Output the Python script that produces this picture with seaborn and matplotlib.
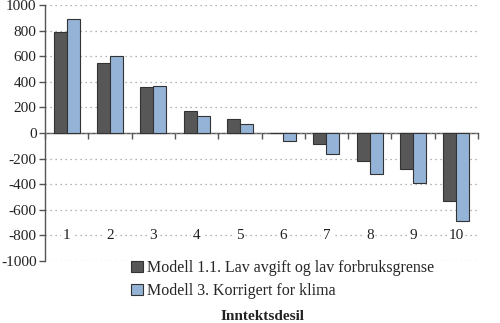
import matplotlib
matplotlib.use("Agg")
import matplotlib.pyplot as plt
import seaborn as sns
import pandas as pd
from matplotlib.patches import Rectangle

categories = ["1", "2", "3", "4", "5", "6", "7", "8", "9", "10"]
series_names = ["Modell 1.1. Lav avgift og lav forbruksgrense",
                "Modell 3. Korrigert for klima"]
modell_11 = [792, 547, 356, 174, 112, -3, -84, -219, -281, -534]
modell_3 = [893, 600, 370, 135, 70, -60, -162, -323, -388, -685]
yticks = [-1000, -800, -600, -400, -200, 0, 200, 400, 600, 800, 1000]
xlabel = "Inntektsdesil"

colors = ["#575757", "#95b3d7"]

df = pd.DataFrame({
    "desil": categories * 2,
    "verdi": modell_11 + modell_3,
    "serie": [series_names[0]] * len(categories) + [series_names[1]] * len(categories),
})

sns.set_theme(style="white")
plt.rcParams["font.family"] = ["Liberation Serif", "DejaVu Serif"]

fig = plt.figure(figsize=(5.0, 3.23), dpi=100)
ax = fig.add_axes([0.09, 0.192, 0.866, 0.7925])

sns.barplot(data=df, x="desil", y="verdi", hue="serie", order=categories,
            hue_order=series_names, palette=colors, width=0.6, gap=0,
            edgecolor="#333333", linewidth=0.8, saturation=1, ax=ax,
            legend=False, errorbar=None)

ax.set_ylim(-1000, 1000)
ax.set_xlim(-0.5, len(categories) - 0.5)
ax.set_yticks(yticks)
ax.set_yticklabels([str(v) for v in yticks], fontsize=11, color="#222222")
ax.yaxis.grid(True, linestyle=(0, (1, 3)), color="#9a9a9a", linewidth=0.9)
ax.set_axisbelow(True)

for s in ["top", "right"]:
    ax.spines[s].set_visible(False)
ax.spines["left"].set_color("#555555")
ax.spines["left"].set_linewidth(1.0)
ax.spines["bottom"].set_position(("data", 0))
ax.spines["bottom"].set_color("#555555")
ax.spines["bottom"].set_linewidth(1.0)
ax.spines["bottom"].set_zorder(0.5)

ax.tick_params(axis="y", left=True, direction="out", length=4, width=1,
               color="#555555", pad=2)
ax.set_xticks([i - 0.5 for i in range(len(categories) + 1)])
ax.set_xticklabels([])
ax.tick_params(axis="x", bottom=True, direction="out", length=4, width=1,
               color="#555555")
ax.set_xlabel("")
ax.set_ylabel("")

for i, c in enumerate(categories):
    ax.text(i, -800, c, ha="center", va="center", fontsize=11, color="#222222",
            bbox=dict(facecolor="white", edgecolor="none", pad=1.0))

handles = [Rectangle((0, 0), 1, 1, facecolor=colors[k], edgecolor="#333333",
                     linewidth=0.8) for k in range(2)]
fig.legend(handles, series_names, loc="upper left",
           bbox_to_anchor=(0.262, 0.195), frameon=False, fontsize=11.5,
           handlelength=0.75, handleheight=0.75, handletextpad=0.25,
           labelspacing=0.45, borderaxespad=0, borderpad=0)

fig.text(0.526, 0.0186, xlabel, ha="center", va="center", fontsize=11,
         fontweight="bold", color="#222222")

fig.savefig("out.png", dpi=100)
